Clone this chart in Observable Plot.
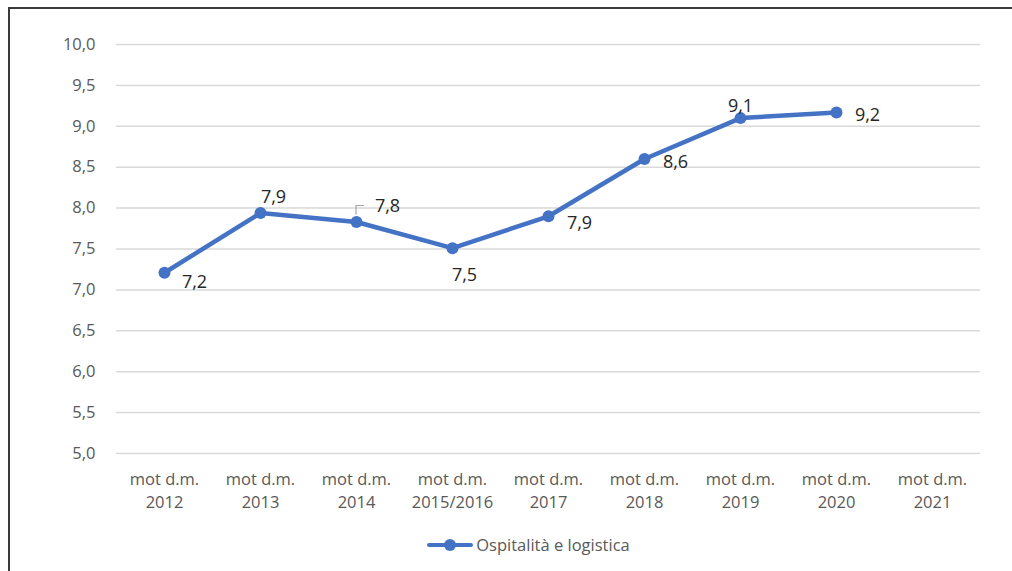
<!DOCTYPE html>
<html><head><meta charset="utf-8">
<script src="https://cdn.jsdelivr.net/npm/d3@7"></script>
<script src="https://cdn.jsdelivr.net/npm/@observablehq/plot@0.6"></script>
<style>
html,body{margin:0;background:#fff;font-family:"Open Sans",sans-serif;overflow:hidden;}
#frame{position:absolute;left:8px;top:7px;width:1004px;height:564px;border-left:2px solid #3a3a3a;border-top:2px solid #3a3a3a;overflow:hidden;}
#legend{position:absolute;left:17px;top:524px;width:1003px;display:flex;justify-content:center;align-items:center;font-size:16.5px;color:#595959;}
#legend svg{margin-right:3px;}
</style></head>
<body><div id="frame"><div id="chart"></div>
<div id="legend"><svg width="46" height="14"><line x1="2" y1="7" x2="44" y2="7" stroke="#4472C4" stroke-width="4" stroke-linecap="round"/><circle cx="23" cy="7" r="6" fill="#4472C4"/></svg><span>Ospitalità e logistica</span></div>
</div>
<script>
const categories = ["2012","2013","2014","2015/2016","2017","2018","2019","2020","2021"];
const values = [7.21, 7.94, 7.83, 7.51, 7.90, 8.60, 9.10, 9.17, null];
const labels = ["7,2","7,9","7,8","7,5","7,9","8,6","9,1","9,2",""];
const labelPlacement = ["below-right","above","above-right","below","right-low","right","above-tight","right",""];
const seriesName = "Ospitalità e logistica";
const yTicks = [5,5.5,6,6.5,7,7.5,8,8.5,9,9.5,10];

const offsets = {
  "below-right":[30,10], "above":[13,-16], "above-right":[31,-16], "below":[12,27],
  "right-low":[31,7], "right":[31,3], "above-tight":[0,-12]
};
const data = categories.map((c,i)=>({cat:c, v:values[i], label:labels[i], pos:labelPlacement[i]}));
const pts = data.filter(d=>d.v!=null);

const textMarks = Object.keys(offsets).map(k=>Plot.text(pts.filter(d=>d.pos===k),{
  x:"cat", y:"v", text:"label", dx:offsets[k][0], dy:offsets[k][1],
  fontSize:18, fill:"#262626"
}));

const leader = (index, scales) => {
  const d = pts.find(p=>p.pos==="above-right");
  const x = scales.x(d.cat);
  const y = scales.y(d.v);
  const g = document.createElementNS("http://www.w3.org/2000/svg","path");
  g.setAttribute("d",`M${x},${y-7}V${y-16}H${x+8}`);
  g.setAttribute("fill","none"); g.setAttribute("stroke","#a6a6a6"); g.setAttribute("stroke-width","1.2");
  return g;
};

const chart = Plot.plot({
  width:1003, height:508,
  marginLeft:106, marginRight:33, marginTop:35, marginBottom:64,
  style:{fontFamily:"Open Sans, sans-serif", fontSize:"16.5px", color:"#595959", background:"transparent"},
  x:{type:"point", domain:categories, padding:0.5, label:null},
  y:{domain:[5,10], label:null},
  marks:[
    Plot.ruleY(yTicks,{stroke:"#d9d9d9", strokeWidth:1.5}),
    Plot.axisY({ticks:yTicks, tickSize:0, tickPadding:21, tickFormat:d=>d.toFixed(1).replace(".",","), fill:"#595959", label:null}),
    Plot.axisX({tickSize:0, tickPadding:15, tickFormat:d=>"mot d.m.\n"+d, fill:"#595959", label:null, lineHeight:1.4}),
    Plot.line(pts,{x:"cat", y:"v", stroke:"#4472C4", strokeWidth:4.5, strokeLinejoin:"round"}),
    Plot.dot(pts,{x:"cat", y:"v", r:6, fill:"#4472C4"}),
    leader,
    ...textMarks
  ]
});
document.getElementById("chart").appendChild(chart);
</script></body></html>
